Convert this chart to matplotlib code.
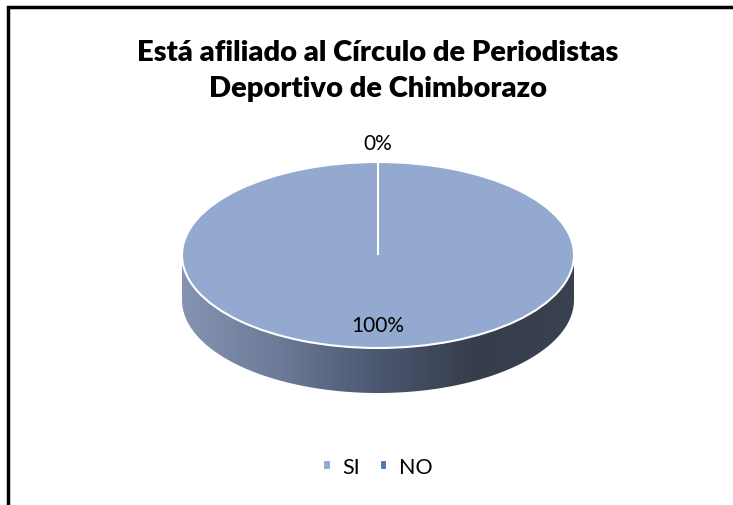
import numpy as np
import matplotlib
matplotlib.use("Agg")
import matplotlib.pyplot as plt
from matplotlib.patches import Polygon, Rectangle
from matplotlib.colors import LinearSegmentedColormap

# ---------------------------------------------------------------- data
categorias = ['SI', 'NO']
valores = [100, 0]
colores = ['#93A9CF', '#4F78B0']
titulo = 'Está afiliado al Círculo de Periodistas\nDeportivo de Chimborazo'

plt.rcParams['font.family'] = ['Lato', 'DejaVu Sans']

# ---------------------------------------------------------------- figure
W, H = 733, 506
fig = plt.figure(figsize=(W / 100, H / 100), dpi=100)
fig.patch.set_facecolor('white')

# borde del gráfico (solo se ven arriba e izquierda)
fig.patches.append(Rectangle((8 / W, -0.1), 1.2, 1.1 - 8 / H,
                             transform=fig.transFigure, fill=False,
                             edgecolor='black', linewidth=2.5))

ax = fig.add_axes([0, 0, 1, 1])

# centro y semiejes del pastel en pixeles
cx, cy, a, b = 378, 256, 196, 93
prof = 45 / b  # profundidad del lateral en unidades de datos

# ---------------------------------------------------------------- pie (cara superior)
wedges, _ = ax.pie(valores, colors=colores, startangle=90, counterclock=False,
                   radius=1.0,
                   wedgeprops=dict(edgecolor='white', linewidth=1.5, zorder=3))

# ---------------------------------------------------------------- lateral 3D
t = np.linspace(np.pi, 2 * np.pi, 200)
abajo = np.column_stack([np.cos(t), np.sin(t) - prof])
arriba = np.column_stack([np.cos(t[::-1]), np.sin(t[::-1])])
lado = Polygon(np.vstack([abajo, arriba]), closed=True, facecolor='none',
               edgecolor='none')
ax.add_patch(lado)
cmap = LinearSegmentedColormap.from_list(
    'lado', ['#8494B0', '#6B7A96', '#4C5770', '#363D4B', '#3A4251'])
grad = np.linspace(0, 1, 256).reshape(1, -1)
im = ax.imshow(grad, cmap=cmap, extent=(-1, 1, -1 - prof, 0),
               aspect='auto', zorder=1, interpolation='bicubic')
im.set_clip_path(lado)

# ---------------------------------------------------------------- etiquetas
total = sum(valores)
for w, v in zip(wedges, valores):
    ang = np.deg2rad((w.theta1 + w.theta2) / 2)
    dist = 0.75 if v > 0 else 1.2
    ax.text(dist * np.cos(ang), dist * np.sin(ang),
            '{:.0f}%'.format(100 * v / total), ha='center', va='center',
            fontsize=15, color='black', zorder=5)

# ---------------------------------------------------------------- ejes
ax.set_xlim(-cx / a, (W - cx) / a)
ax.set_ylim((cy - H) / b, cy / b)
ax.set_aspect('auto')
ax.axis('off')

# ---------------------------------------------------------------- titulo y leyenda
fig.text(cx / W, 1 - 71 / H, titulo, ha='center', va='center',
         fontsize=21, fontweight='heavy', linespacing=1.45)

fig.legend(wedges, categorias, loc='center', ncol=2,
           bbox_to_anchor=(cx / W, 1 - 468 / H), frameon=False,
           fontsize=15.5, handlelength=0.35, handleheight=0.35,
           handletextpad=0.55, columnspacing=0.9)

plt.savefig('out.png', dpi=100)
